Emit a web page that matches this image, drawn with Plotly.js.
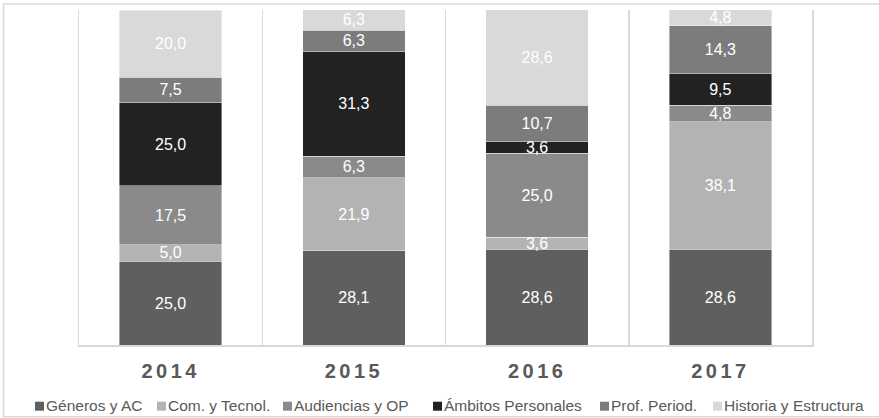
<!DOCTYPE html>
<html>
<head>
<meta charset="utf-8">
<script src="https://cdn.plot.ly/plotly-3.0.1.min.js"></script>
<style>
  html, body { margin: 0; padding: 0; background: #fff; }
  #chart { width: 879px; height: 418px; }
  .xtick text { letter-spacing: 3.4px; }
</style>
</head>
<body>
<div id="chart"></div>
<script>
// ---- data ----
const categories = ['2014', '2015', '2016', '2017'];
const seriesNames = ['Géneros y AC', 'Com. y Tecnol.', 'Audiencias y OP', 'Ámbitos Personales', 'Prof. Period.', 'Historia y Estructura'];
const generos    = [25.0, 28.1, 28.6, 28.6];
const comTecnol  = [5.0, 21.9, 3.6, 38.1];
const audiencias = [17.5, 6.3, 25.0, 4.8];
const ambitos    = [25.0, 31.3, 3.6, 9.5];
const profPeriod = [7.5, 6.3, 10.7, 14.3];
const historia   = [20.0, 6.3, 28.6, 4.8];
const seriesValues = [generos, comTecnol, audiencias, ambitos, profPeriod, historia];
const seriesColors = ['#5f5f5f', '#b3b3b3', '#8a8a8a', '#222222', '#7c7c7c', '#d9d9d9'];

// ---- layout geometry (pixels) ----
const W = 879, H = 418;
const M = { l: 79, r: 67, t: 10, b: 73 };
const PW = W - M.l - M.r, PH = H - M.t - M.b;
const px = x => (x - M.l) / PW;
const py = y => (H - M.b - y) / PH;
const FONT = 'Liberation Sans';

const traces = seriesNames.map((name, i) => ({
  type: 'bar',
  name: name,
  x: categories,
  y: seriesValues[i],
  marker: { color: seriesColors[i], line: { color: 'rgba(255,255,255,0.55)', width: 0.75 } },
  texttemplate: '%{y:.1f}',
  textposition: 'inside',
  insidetextanchor: 'middle',
  textangle: 0,
  constraintext: 'none',
  textfont: { family: FONT, size: 16, color: '#ffffff' },
  hoverinfo: 'skip'
}));

// custom legend (squares + labels)
const legendLeft = [35, 157, 283, 433, 600, 713];
const shapes = [{
  type: 'rect', xref: 'paper', yref: 'paper',
  x0: px(3.5), x1: px(884), y0: py(4), y1: py(416.8),
  line: { color: '#d9d9d9', width: 1.5 }, layer: 'below'
}];
const annotations = [];
seriesNames.forEach((name, i) => {
  const x0 = legendLeft[i];
  shapes.push({
    type: 'rect', xref: 'paper', yref: 'paper',
    x0: px(x0), x1: px(x0 + 9), y0: py(401.7), y1: py(410.7),
    fillcolor: seriesColors[i], line: { width: 0 }
  });
  annotations.push({
    xref: 'paper', yref: 'paper', x: px(x0 + 9), y: py(405.5),
    xanchor: 'left', yanchor: 'middle', showarrow: false,
    text: name, font: { family: FONT, size: 15.5, color: '#595959' }
  });
});

const layout = {
  width: W, height: H,
  margin: M,
  barmode: 'stack',
  bargap: 0.44,
  separators: ',.',
  showlegend: false,
  paper_bgcolor: '#ffffff',
  plot_bgcolor: '#ffffff',
  hovermode: false,
  font: { family: FONT },
  xaxis: {
    type: 'category',
    tickson: 'boundaries',
    ticks: '',
    showgrid: true,
    gridcolor: '#d9d9d9',
    gridwidth: 1.5,
    showline: true,
    linecolor: '#d9d9d9',
    linewidth: 2,
    ticklabelstandoff: 7,
    tickfont: { family: FONT, size: 20, color: '#595959', weight: 'bold' },
    fixedrange: true
  },
  yaxis: {
    range: [0, 100],
    showgrid: false,
    zeroline: false,
    showticklabels: false,
    ticks: '',
    showline: true,
    mirror: true,
    linecolor: '#d9d9d9',
    linewidth: 1.5,
    fixedrange: true
  },
  shapes: shapes,
  annotations: annotations
};

Plotly.newPlot('chart', traces, layout, { displayModeBar: false, staticPlot: true });
</script>
</body>
</html>
